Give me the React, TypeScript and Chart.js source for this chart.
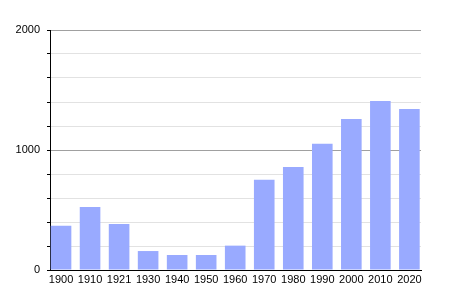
import React, { useEffect, useRef } from "react";
import { Chart, registerables } from "chart.js";

Chart.register(...registerables);

const years = ["1900", "1910", "1921", "1930", "1940", "1950", "1960", "1970", "1980", "1990", "2000", "2010", "2020"];
const population = [368, 525, 383, 158, 125, 125, 203, 753, 858, 1053, 1258, 1408, 1342];
const yMajorLabels = [0, 1000, 2000];

export default function App() {
  const ref = useRef<HTMLCanvasElement | null>(null);

  useEffect(() => {
    document.body.style.margin = "0";
    if (!ref.current) return;
    const chart = new Chart(ref.current, {
      type: "bar",
      data: {
        datasets: [
          {
            data: population.map((v, i) => ({ x: i, y: v })),
            backgroundColor: "#99aaff",
            borderWidth: 0,
            barPercentage: 0.71,
            categoryPercentage: 1,
          },
        ],
      },
      options: {
        responsive: false,
        animation: false,
        layout: { padding: { left: 0, right: 29, top: 30, bottom: 0 } },
        plugins: { legend: { display: false }, tooltip: { enabled: false } },
        scales: {
          x: {
            type: "linear",
            offset: false,
            min: -0.38,
            max: 12.4,
            grid: { display: false, drawTicks: false, offset: false },
            border: { display: true, color: "#000", width: 1 },
            ticks: {
              stepSize: 1,
              autoSkip: false,
              includeBounds: false,
              maxRotation: 0,
              padding: 3,
              color: "#000",
              font: { family: "Liberation Sans, Arial, sans-serif", size: 11 },
              callback: (value: any) => {
                const v = Number(value);
                return Number.isInteger(v) && years[v] !== undefined ? years[v] : "";
              },
            },
            afterFit: (scale: any) => {
              scale.height = 30;
            },
          },
          y: {
            min: 0,
            max: 2000,
            grid: {
              color: (ctx: any) => (ctx.tick && ctx.tick.value % 1000 === 0 ? "#a0a0a0" : "#e2e2e2"),
              tickColor: "#000",
              tickLength: 3,
              lineWidth: 1,
            },
            border: { display: true, color: "#000", width: 1 },
            ticks: {
              stepSize: 200,
              autoSkip: false,
              padding: 7,
              color: "#000",
              font: { family: "Liberation Sans, Arial, sans-serif", size: 11 },
              callback: (value: any) => (yMajorLabels.includes(Number(value)) ? String(value) : ""),
            },
            afterFit: (scale: any) => {
              scale.width = 50;
            },
          },
        },
      },
    });
    return () => chart.destroy();
  }, []);

  return (
    <div style={{ position: "absolute", left: 0, top: 0, width: 450, height: 300, background: "#fff" }}>
      <canvas ref={ref} width={450} height={300} />
    </div>
  );
}
